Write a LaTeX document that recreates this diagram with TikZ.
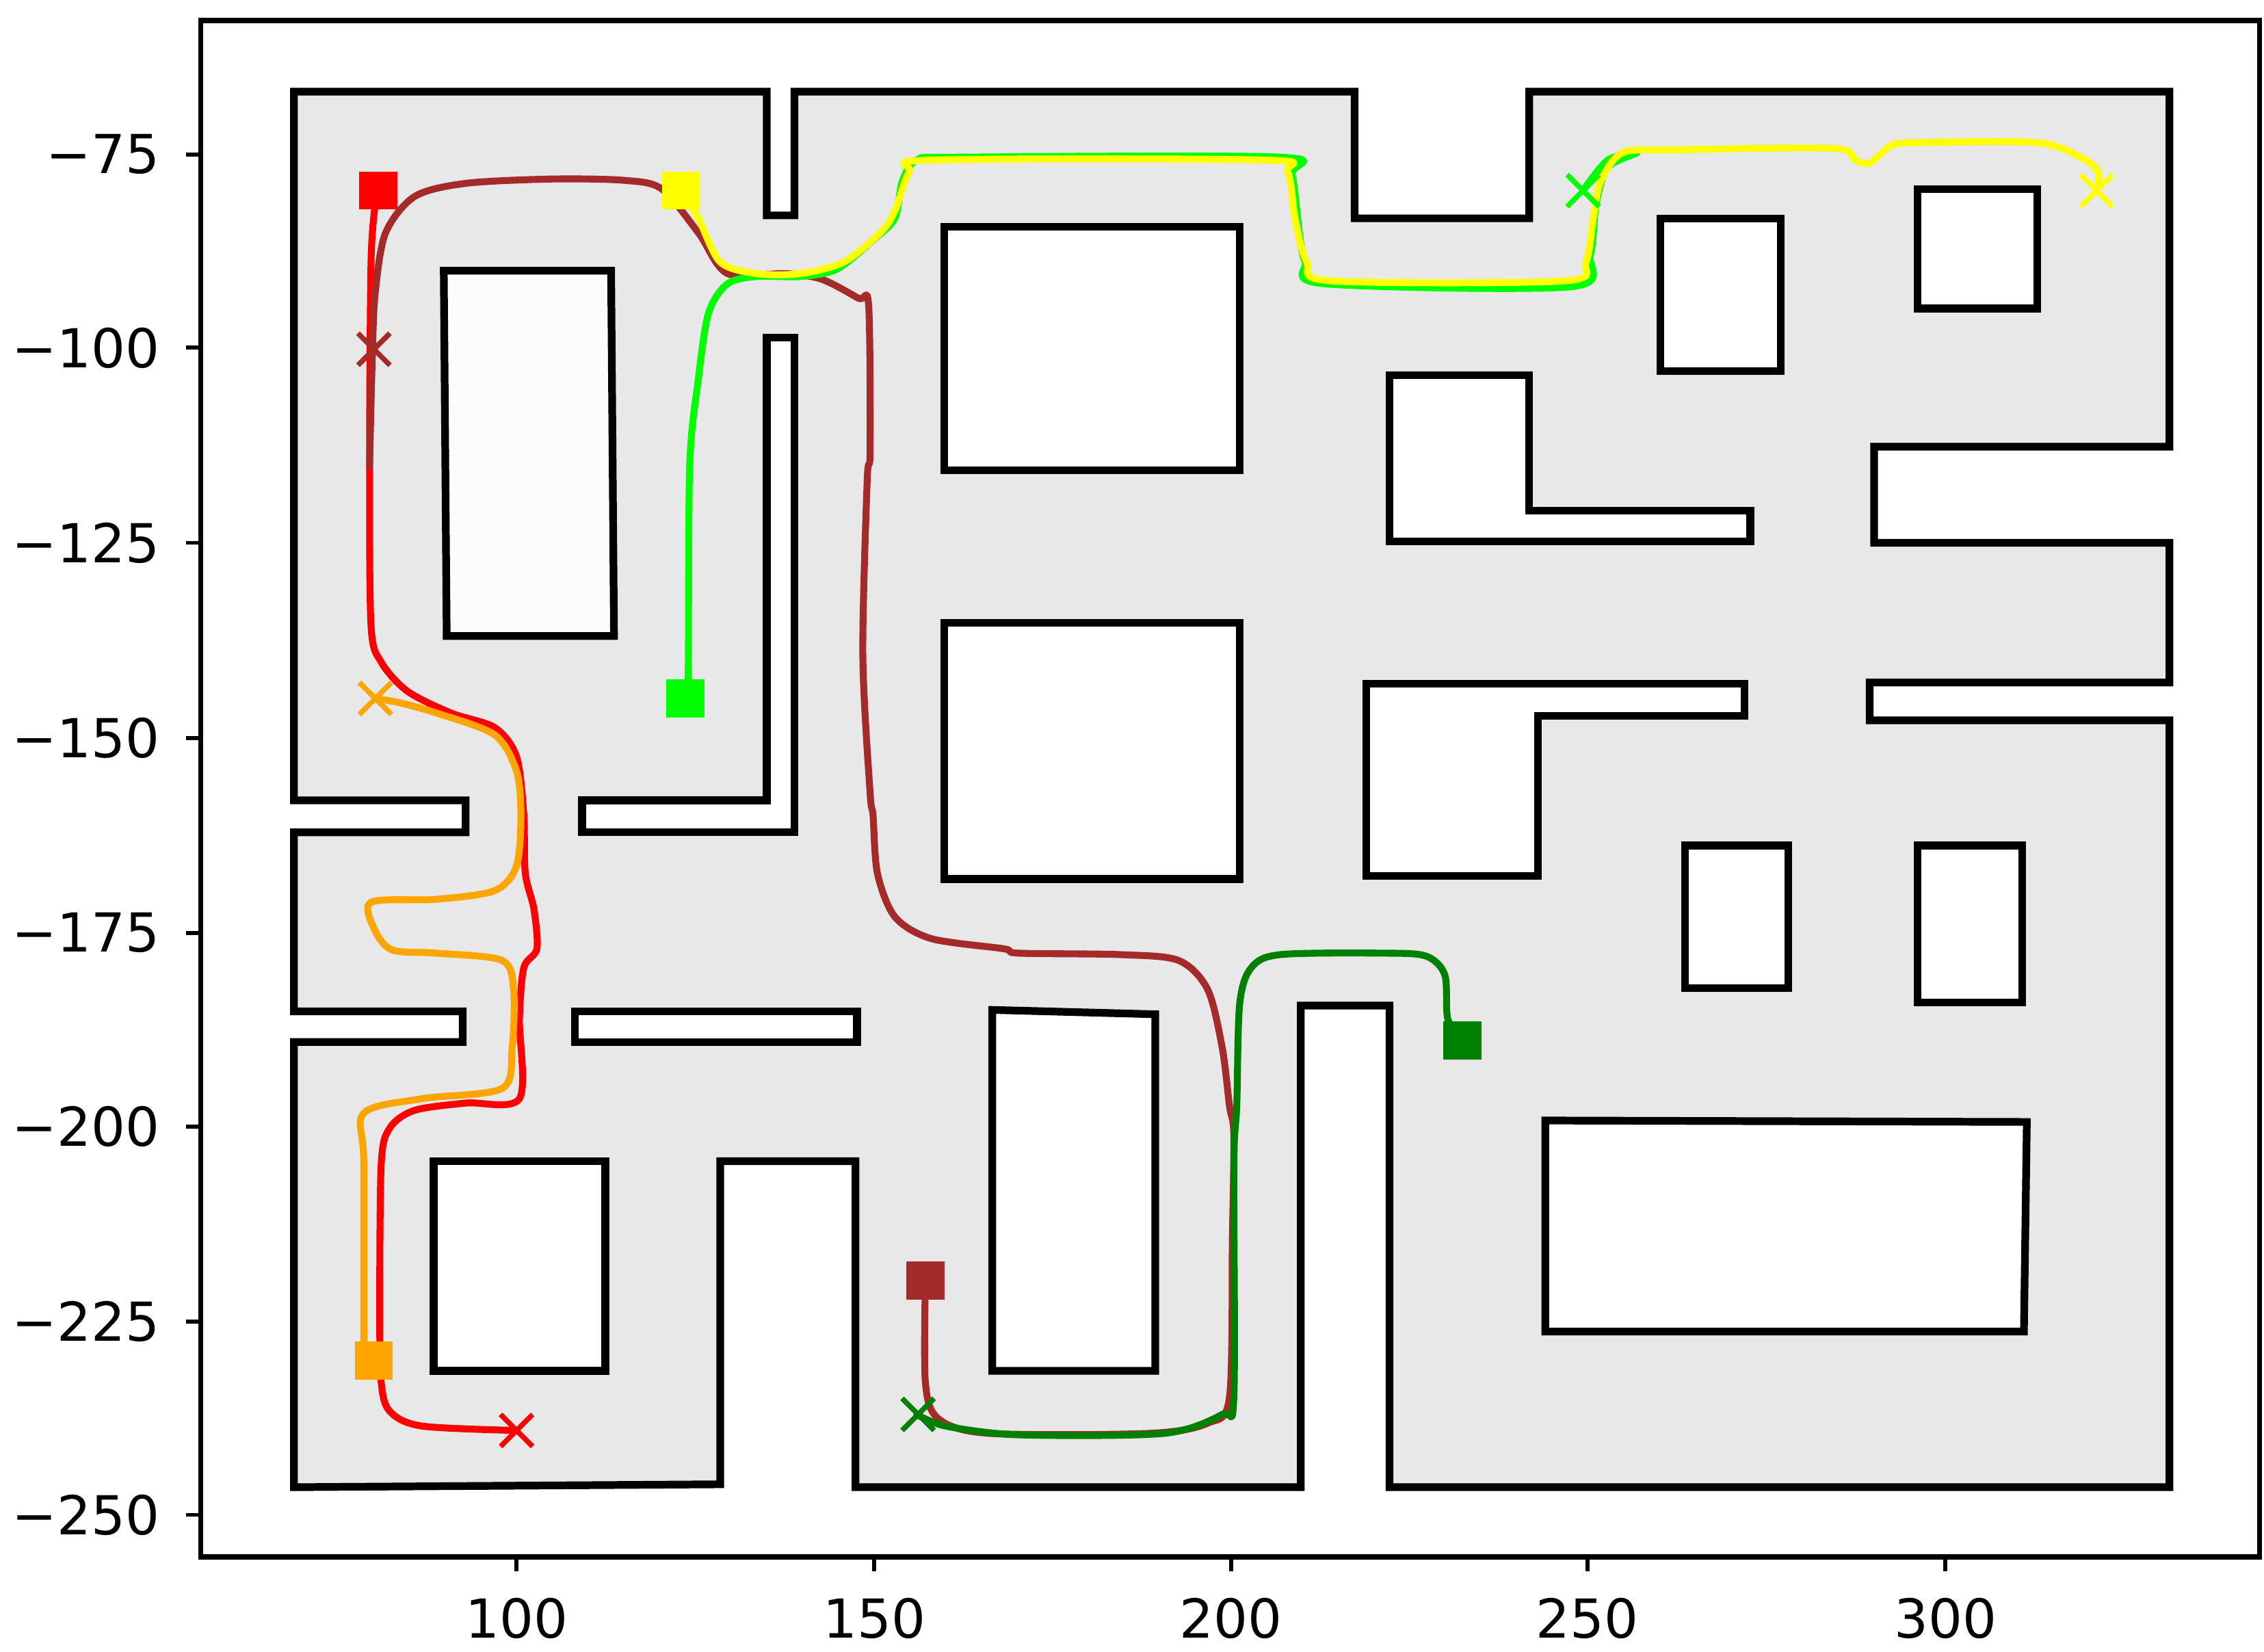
\documentclass[tikz,border=0pt]{standalone}
\usepackage{fontspec}
\setmainfont{DejaVu Sans}
\definecolor{mbrown}{HTML}{A52A2A}
\definecolor{morange}{HTML}{FFA500}
\definecolor{mgreen}{HTML}{00FF00}
\definecolor{dgreen}{HTML}{008000}
\definecolor{myellow}{HTML}{FFFF00}
\definecolor{mred}{HTML}{FF0000}
\begin{document}
\begin{tikzpicture}[x=0.01cm,y=-0.01cm,
  wall/.style={line width=1.5pt,line join=miter},
  obst/.style={wall,fill=white},
  trail/.style={line width=1.35pt,line join=round,line cap=round},
  sq/.style={fill=#1,minimum size=0.26cm,inner sep=0pt,draw=none},
  xm/.style={line width=1pt,draw=#1},
  tick/.style={line width=0.8pt},
  lab/.style={font=\fontsize{10.5}{12}\selectfont}]
\useasboundingbox (0,0) rectangle (1556,1135);
% axes frame
\draw[line width=1pt] (138,14) rectangle (1553,1070);
% outer region
\draw[wall,fill=black!9] (202,63) -- (527,63) -- (527,148) -- (546,148) -- (546,63) -- (931,63) -- (931,150) -- (1051,150) -- (1051,63) -- (1491,63) -- (1491,307) -- (1288,307) -- (1288,373) -- (1491,373) -- (1491,469) -- (1285,469) -- (1285,495) -- (1491,495) -- (1491,1022) -- (955,1022) -- (955,691) -- (894,691) -- (894,1022) -- (588,1022) -- (588,798) -- (495,798) -- (495,1020) -- (202,1022) -- (202,716) -- (318,716) -- (318,695) -- (202,695) -- (202,572) -- (320,572) -- (320,550) -- (202,550) -- cycle;
% obstacles
\draw[wall,fill=white!60!black!3] (305,186) -- (420,186) -- (422,437) -- (307,437) -- cycle;
\draw[obst] (527,232) -- (546,232) -- (546,572) -- (400,572) -- (400,550) -- (527,550) -- cycle;
\draw[obst] (649,156) rectangle (852,323);
\draw[obst] (649,428) rectangle (852,604);
\draw[obst] (395,695) rectangle (589,716);
\draw[obst] (298,798) rectangle (416,942);
\draw[obst] (682,694) -- (794,697) -- (794,942) -- (682,942) -- cycle;
\draw[obst] (955,258) -- (1051,258) -- (1051,351) -- (1203,351) -- (1203,372) -- (955,372) -- cycle;
\draw[obst] (939,470) -- (1199,470) -- (1199,492) -- (1057,492) -- (1057,602) -- (939,602) -- cycle;
\draw[obst] (1141,150) rectangle (1224,255);
\draw[obst] (1318,130) rectangle (1400,212);
\draw[obst] (1158,581) rectangle (1229,679);
\draw[obst] (1318,581) rectangle (1390,689);
\draw[obst] (1062,770) -- (1393,771) -- (1391,915) -- (1062,915) -- cycle;
% trajectories
\draw[trail,mred] plot[smooth,tension=0.5] coordinates {(258,140)(255,180)(254,320)(255,430)(262,455)(280,475)(310,490)(340,500)(355,520)(360,560)(361,600)(367,625)(369,652)(360,665)(357,700)(357,755)(320,758)(285,763)(268,775)(262,800)(261,900)(262,950)(268,970)(290,980)(355,983)};
\draw[trail,mbrown] plot[smooth,tension=0.5] coordinates {(636,880)(636,950)(645,975)(680,985)(790,985)(830,978)(845,960)(847,850)(848,780)(845,760)(840,720)(830,680)(810,660)(770,656)(700,655)(690,652)(640,645)(615,630)(603,600)(600,560)(598,545)(593,450)(596,330)(598,310)(597,210)(590,205)(565,192)(540,188)(500,188)(480,160)(455,130)(430,124)(380,123)(320,126)(285,135)(265,160)(258,200)(256,240)(254,320)};
\draw[trail,morange] plot[smooth,tension=0.5] coordinates {(250,935)(250,800)(250,765)(290,755)(345,748)(352,720)(353,680)(345,660)(300,655)(270,653)(258,640)(255,620)(300,618)(340,612)(355,595)(358,560)(355,530)(340,505)(300,490)(275,483)(258,480)};
\draw[trail,mgreen] plot[smooth,tension=0.5] coordinates {(471,480)(473,460)(474,320)(480,260)(487,215)(500,195)(520,190)(550,190)(575,185)(600,165)(615,150)(620,125)(630,110)(660,108)(880,108)(888,120)(893,160)(897,180)(910,195)(1080,197)(1093,175)(1097,140)(1105,115)(1125,105)(1105,110)(1088,131)};
\draw[trail,myellow] plot[smooth,tension=0.5] coordinates {(468,131)(480,150)(495,180)(520,188)(550,188)(580,180)(605,160)(615,145)(625,118)(640,110)(870,110)(885,118)(890,150)(898,180)(915,193)(1075,193)(1090,180)(1095,150)(1100,125)(1115,105)(1150,103)(1260,102)(1275,110)(1285,112)(1300,100)(1320,98)(1400,98)(1430,108)(1442,118)(1441,131)};
\draw[trail,dgreen] plot[smooth,tension=0.5] coordinates {(1005,715)(995,700)(993,670)(980,657)(950,655)(880,656)(860,665)(852,690)(850,760)(848,800)(848,960)(840,972)(800,985)(700,986)(650,980)(630,972)};
% start markers
\node[sq=mred] (sr) at (260,131) {};
\node[sq=mbrown] (sb) at (636,880) {};
\node[sq=morange] (so) at (257,935) {};
\node[sq=mgreen] (sg) at (471,480) {};
\node[sq=myellow] (sy) at (468,131) {};
\node[sq=dgreen] (sd) at (1005,715) {};
% end markers
\foreach \p/\c in {{(355,983)}/mred, {(257,240)}/mbrown, {(258,480)}/morange, {(1088,131)}/mgreen, {(1441,131)}/myellow, {(631,972)}/dgreen}{
  \draw[xm=\c] \p ++(-11,-11) -- ++(22,22) \p ++(-11,11) -- ++(22,-22);
}
% ticks
\foreach \px/\t in {355/100,601/150,846/200,1091/250,1337/300}{
  \draw[tick] (\px,1070) -- (\px,1080);
  \node[lab,anchor=north] (xl\t) at (\px,1086) {\t};
}
\foreach \py/\t in {106/75,239/100,373/125,507/150,641/175,774/200,908/225,1041/250}{
  \draw[tick] (138,\py) -- (128,\py);
  \node[lab,anchor=east] (yl\t) at (122,\py) {\textminus\t};
}
\end{tikzpicture}
\end{document}
